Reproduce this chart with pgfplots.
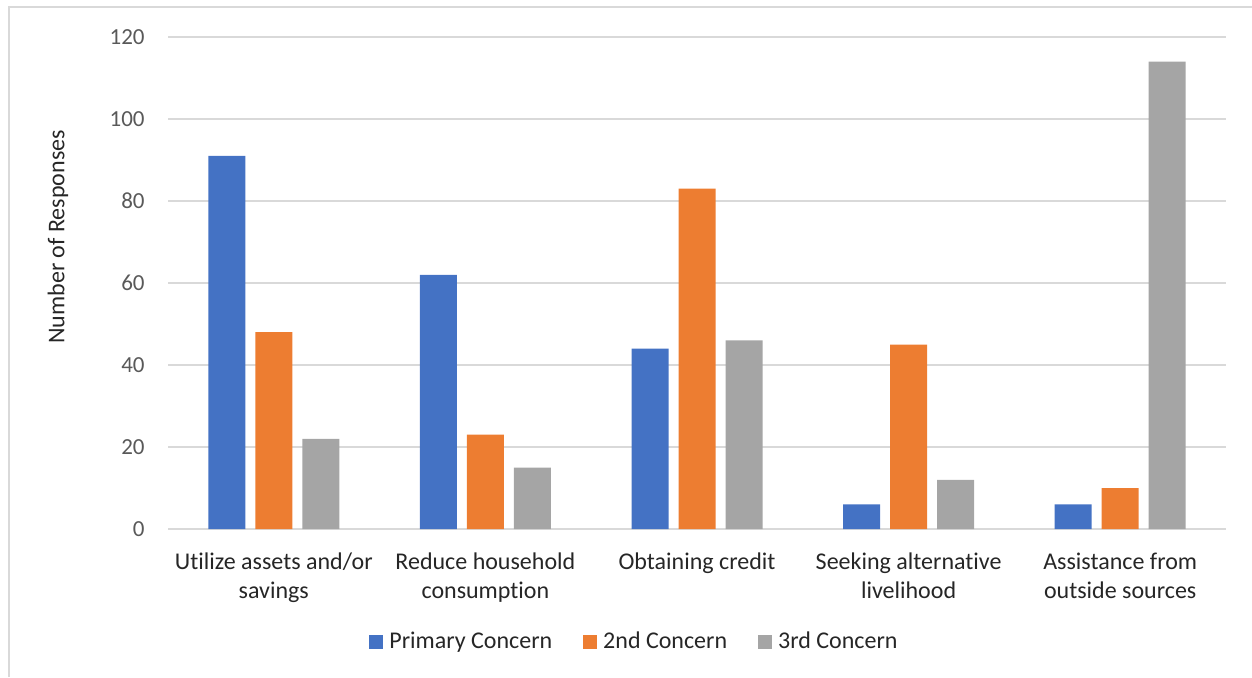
\documentclass[border=0pt]{standalone}
\usepackage{pgfplots}
\pgfplotsset{compat=1.18}
\usepackage{fontspec}
\setmainfont{Carlito}[Ligatures=NoCommon]
\definecolor{cblue}{HTML}{4472C4}
\definecolor{corange}{HTML}{ED7D31}
\definecolor{cgray}{HTML}{A5A5A5}
\definecolor{gridc}{HTML}{D9D9D9}
\definecolor{tickc}{HTML}{595959}
\pgfplotsset{sqleg/.style={legend image code/.code={\fill[##1] (0pt,-3.5pt) rectangle (7pt,3.5pt);}}}
\begin{document}
\begin{tikzpicture}
\useasboundingbox (0,0) rectangle (626pt,338.5pt);
\draw[gridc, line width=1pt] (4.25pt,0) -- (4.25pt,335pt) -- (626pt,335pt);
\begin{axis}[
  at={(84pt,74pt)}, anchor=south west,
  scale only axis, width=529pt, height=246pt,
  xmin=-0.5, xmax=4.5, ymin=0, ymax=120,
  ybar=5pt, bar width=18.5pt,
  ytick={0,20,...,120},
  xtick={0,...,4},
  xticklabels={{Utilize assets and/or\\savings},{Reduce household\\consumption},{Obtaining credit},{Seeking alternative\\livelihood},{Assistance from\\outside sources}},
  axis line style={draw=none},
  tick style={draw=none},
  ymajorgrids, major grid style={gridc, line width=1pt},
  /pgf/number format/assume math mode=true,
  yticklabel style={font=\fontsize{11.5}{14}\selectfont, text=tickc, anchor=east, inner sep=0pt, xshift=-11.5pt},
  xticklabel style={font=\fontsize{12}{14.5}\selectfont, text=black!85, anchor=north, inner sep=0pt, yshift=-7.5pt, align=center},
  ylabel={Number of Responses},
  ylabel style={at={(axis description cs:-0.104,0.5935)}, anchor=center, font=\fontsize{12}{14}\selectfont, text=black!85},
  legend style={at={(axis description cs:0.4428,-0.2297)}, anchor=center, draw=none, legend columns=3, font=\fontsize{12}{14}\selectfont, text=black!85, /tikz/every even column/.append style={column sep=12.5pt}, nodes={inner sep=3pt}},
]
\addplot[fill=cblue, draw=none, sqleg] coordinates {(0,91) (1,62) (2,44) (3,6) (4,6)};
\addplot[fill=corange, draw=none, sqleg] coordinates {(0,48) (1,23) (2,83) (3,45) (4,10)};
\addplot[fill=cgray, draw=none, sqleg] coordinates {(0,22) (1,15) (2,46) (3,12) (4,114)};
\legend{Primary Concern,2nd Concern,3rd Concern}
\end{axis}
\end{tikzpicture}
\end{document}
